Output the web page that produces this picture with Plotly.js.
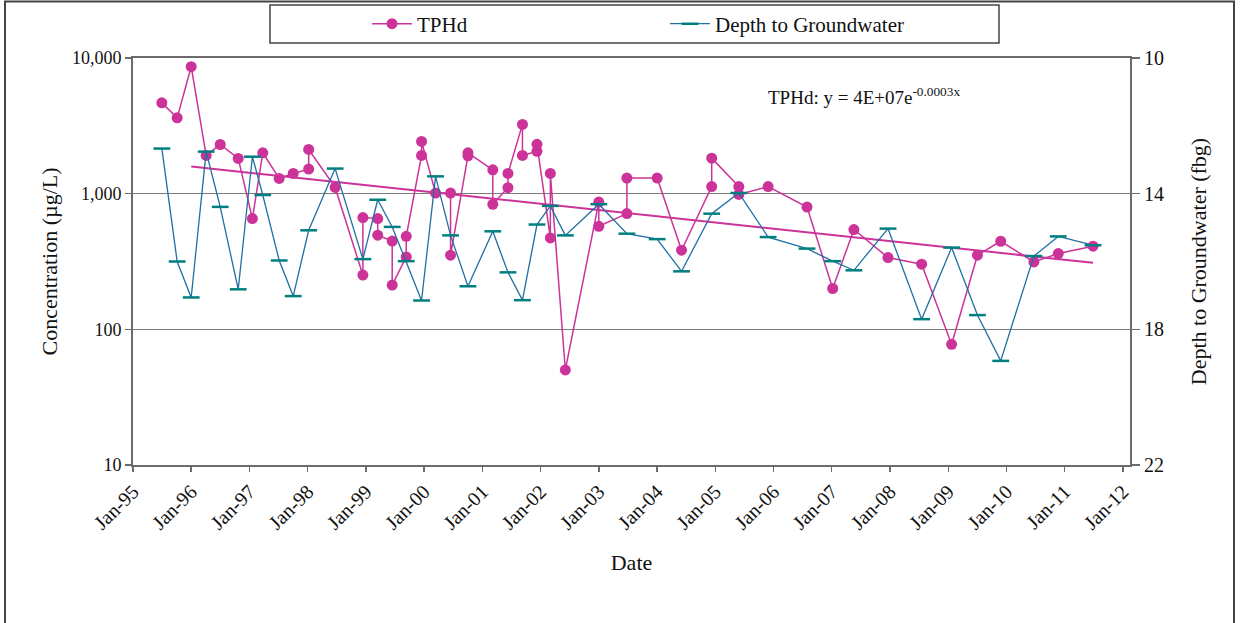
<!DOCTYPE html>
<html>
<head>
<meta charset="utf-8">
<script src="https://cdn.plot.ly/plotly-3.0.1.min.js"></script>
<style>
  html, body { margin: 0; padding: 0; background: #fff; }
  #chart { width: 1241px; height: 623px; }
</style>
</head>
<body>
<div id="chart"></div>
<script>
// ---- Data ----
const tphdDates = [
  '1995-07-01','1995-10-05','1996-01-01','1996-04-04','1996-07-01','1996-10-22',
  '1997-01-19','1997-03-25','1997-07-06','1997-10-02','1998-01-07','1998-01-07',
  '1998-06-22','1998-12-13','1998-12-13','1999-03-16','1999-03-16','1999-06-15',
  '1999-06-15','1999-09-11','1999-09-11','1999-12-16','1999-12-16','2000-03-13',
  '2000-06-15','2000-06-15','2000-10-02','2000-10-02','2001-03-07','2001-03-07',
  '2001-06-10','2001-06-10','2001-09-09','2001-09-09','2001-12-09','2001-12-09',
  '2002-03-03','2002-03-03','2002-06-05','2003-01-01','2003-01-01','2003-06-26',
  '2003-06-26','2004-01-02','2004-06-03','2004-12-09','2004-12-09','2005-05-28',
  '2005-05-28','2005-11-28','2006-07-30','2007-01-07','2007-05-20','2007-12-20',
  '2008-07-18','2009-01-22','2009-07-03','2009-11-26','2010-06-22','2010-11-22',
  '2011-06-28'
];
const tphdValues = [
  4670, 3620, 8630, 1914, 2304, 1818,
  655, 2002, 1296, 1410, 1517, 2117,
  1112, 251, 667, 655, 494, 447,
  212, 342, 485, 1914, 2425, 1010,
  1010, 352, 1900, 2000, 1500, 834,
  1106, 1409, 3240, 1914, 2050, 2310,
  472, 1409, 50.2, 867, 575, 713,
  1303, 1303, 383, 1128, 1828, 1128,
  987, 1128, 797, 200, 544, 338,
  302, 77.6, 352, 446, 314, 362,
  410
];

const depthDates = [
  '1995-07-01','1995-10-05','1996-01-01','1996-04-04','1996-07-01','1996-10-22',
  '1997-01-19','1997-03-25','1997-07-06','1997-10-02','1998-01-07','1998-06-22',
  '1998-12-13','1999-03-16','1999-06-15','1999-09-11','1999-12-16','2000-03-13',
  '2000-06-15','2000-10-02','2001-03-07','2001-06-10','2001-09-09','2001-12-09',
  '2002-03-03','2002-06-05','2003-01-01','2003-06-26','2004-01-02','2004-06-03',
  '2004-12-09','2005-05-28','2005-11-28','2006-07-30','2007-01-07','2007-05-20',
  '2007-12-20','2008-07-18','2009-01-22','2009-07-03','2009-11-26','2010-06-22',
  '2010-11-22','2011-06-28'
];
const depthValues = [
  12.67, 16.0, 17.06, 12.76, 14.39, 16.82,
  12.91, 14.04, 15.97, 17.02, 15.08, 13.26,
  15.93, 14.18, 14.98, 15.99, 17.15, 13.49,
  15.23, 16.73, 15.11, 16.32, 17.14, 14.91,
  14.36, 15.23, 14.31, 15.18, 15.34, 16.29,
  14.59, 13.98, 15.28, 15.62, 15.99, 16.26,
  15.03, 17.7, 15.59, 17.58, 18.93, 15.84,
  15.26, 15.52
];

// exponential trendline end points (straight on the log axis)
const trendDates = ['1996-01-01', '2011-06-28'];
const trendValues = [1587, 309];

const concTickVals = [10, 100, 1000, 10000];
const concTickText = ['10', '100', '1,000', '10,000'];
const depthTickVals = [10, 14, 18, 22];
const depthTickText = ['10', '14', '18', '22'];

// ---- Styling ----
const FONT = 'Liberation Serif, Times New Roman, serif';
const PINK = '#CC3399';
const TEAL = '#007F80';
const BLUE = '#1F6FA3';
const AXIS = '#6b6b6b';

// pixel -> paper helpers (plot area: x 133..1130, y 58..465)
const L = 133, R = 1130, T = 58, B = 465;
const px = v => (v - L) / (R - L);
const py = v => (B - v) / (B - T);

const traces = [
  {
    x: tphdDates, y: tphdValues, name: 'TPHd', type: 'scatter', mode: 'lines+markers',
    line: { color: PINK, width: 1.5 },
    marker: { color: PINK, size: 11, symbol: 'circle' },
    yaxis: 'y'
  },
  {
    x: depthDates, y: depthValues, name: 'Depth to Groundwater', type: 'scatter', mode: 'lines+markers',
    line: { color: BLUE, width: 1.3 },
    marker: { symbol: 'line-ew', size: 12, color: TEAL, line: { color: TEAL, width: 2.5 } },
    yaxis: 'y2'
  },
  {
    x: trendDates, y: trendValues, name: 'TPHd trend', type: 'scatter', mode: 'lines',
    line: { color: PINK, width: 2 }, showlegend: false, hoverinfo: 'skip',
    yaxis: 'y'
  }
];

const layout = {
  width: 1241, height: 623,
  margin: { l: L, r: 1241 - R, t: T, b: 623 - B, pad: 0, autoexpand: false },
  paper_bgcolor: '#ffffff', plot_bgcolor: '#ffffff',
  font: { family: FONT, size: 18, color: '#111' },
  showlegend: true,
  legend: {
    orientation: 'h', x: px(367), y: py(24), xanchor: 'left', yanchor: 'middle',
    xref: 'paper', yref: 'paper',
    bgcolor: 'rgba(0,0,0,0)', borderwidth: 0,
    font: { family: FONT, size: 21, color: '#111' },
    itemwidth: 40,
    entrywidth: 243, entrywidthmode: 'pixels', traceorder: 'normal'
  },
  xaxis: {
    type: 'date',
    range: ['1995-01-01', '2012-02-15'],
    tick0: '1995-01-01', dtick: 'M12', tickformat: '%b-%y',
    tickangle: -45, ticks: 'outside', ticklen: 5, tickwidth: 1.5, tickcolor: AXIS,
    tickfont: { family: FONT, size: 20, color: '#111' },
    showgrid: false, zeroline: false,
    showline: true, linecolor: AXIS, linewidth: 2, mirror: true,
    title: { text: 'Date', font: { family: FONT, size: 22, color: '#111' }, standoff: 22 },
    automargin: false
  },
  yaxis: {
    type: 'log', range: [1, 4],
    tickvals: concTickVals, ticktext: concTickText,
    ticks: 'outside', ticklen: 6, tickwidth: 1.5, tickcolor: AXIS,
    tickfont: { family: FONT, size: 18, color: '#111' },
    showgrid: true, gridcolor: '#7a7a7a', gridwidth: 1.5,
    showline: true, linecolor: AXIS, linewidth: 2, zeroline: false,
    title: { text: 'Concentration (µg/L)', font: { family: FONT, size: 22, color: '#111' }, standoff: 8 },
    automargin: false
  },
  yaxis2: {
    overlaying: 'y', side: 'right', range: [22, 10],
    tickvals: depthTickVals, ticktext: depthTickText,
    ticks: 'outside', ticklen: 8, tickwidth: 1.5, tickcolor: AXIS,
    tickfont: { family: FONT, size: 20, color: '#111' },
    showgrid: false, zeroline: false,
    showline: true, linecolor: AXIS, linewidth: 2,
    title: { text: 'Depth to Groundwater (fbg)', font: { family: FONT, size: 22, color: '#111' }, standoff: 28 },
    automargin: false
  },
  annotations: [
    {
      xref: 'paper', yref: 'paper', x: px(766), y: py(96), xanchor: 'left', yanchor: 'middle',
      text: 'TPHd: y = 4E+07e<sup>-0.0003x</sup>', showarrow: false,
      font: { family: FONT, size: 19, color: '#111' }
    }
  ],
  shapes: [
    // outer chart frame
    { type: 'rect', xref: 'paper', yref: 'paper', x0: px(5), x1: px(1234), y0: py(640), y1: py(1.5),
      line: { color: '#444', width: 2 }, fillcolor: 'rgba(0,0,0,0)', layer: 'below' },
    // legend box
    { type: 'rect', xref: 'paper', yref: 'paper', x0: px(270), x1: px(999), y0: py(43), y1: py(5),
      line: { color: '#444', width: 1.5 }, fillcolor: 'rgba(0,0,0,0)', layer: 'below' }
  ]
};

Plotly.newPlot('chart', traces, layout, { displayModeBar: false, staticPlot: true });
</script>
</body>
</html>
